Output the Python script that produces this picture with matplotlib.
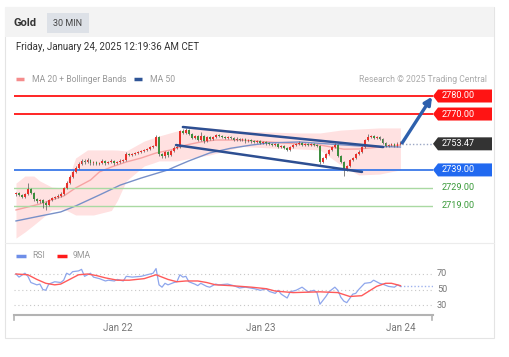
import numpy as np
import matplotlib.pyplot as plt
from matplotlib.patches import Rectangle, Polygon
from matplotlib.transforms import blended_transform_factory

plt.rcParams['font.family'] = ['Roboto', 'DejaVu Sans']

# --- price data (30 min candles, index 0 = first candle shown) ---
closes = [2726.2, 2725.1, 2724.0, 2725.7, 2728.4, 2726.2, 2722.9, 2721.8, 2722.3, 2720.7,
          2719.5, 2722.3, 2723.4, 2724.0, 2724.5, 2725.7, 2729.0, 2731.8, 2735.1, 2737.9,
          2740.1, 2742.3, 2744.0, 2743.4, 2744.5, 2742.8, 2743.4, 2742.3, 2742.8, 2744.0,
          2742.8, 2743.4, 2744.0, 2742.8, 2743.4, 2744.0, 2744.5, 2747.8, 2747.3, 2747.8,
          2748.4, 2748.9, 2749.5, 2750.1, 2750.6, 2751.7, 2752.3, 2757.3, 2747.8, 2746.7,
          2748.9, 2747.3, 2749.5, 2751.2, 2751.7, 2760.6, 2759.5, 2761.1, 2758.9, 2756.7,
          2757.8, 2755.6, 2757.8, 2755.0, 2757.3, 2756.2, 2757.3, 2758.4, 2757.8, 2757.3,
          2756.7, 2757.3, 2756.7, 2755.6, 2756.2, 2755.6, 2756.2, 2755.0, 2755.6, 2755.0,
          2754.5, 2755.0, 2753.9, 2754.5, 2753.9, 2753.4, 2752.8, 2753.4, 2751.7, 2752.3,
          2751.2, 2750.1, 2751.7, 2752.8, 2753.4, 2753.9, 2752.8, 2753.4, 2752.8, 2753.4,
          2752.8, 2752.3, 2743.4, 2745.6, 2747.8, 2750.1, 2751.7, 2752.8, 2746.7, 2743.4,
          2739.5, 2741.2, 2744.5, 2745.6, 2747.8, 2748.9, 2751.7, 2755.6, 2757.3, 2757.8,
          2756.7, 2757.3, 2756.2, 2753.9, 2752.3, 2752.8, 2753.4, 2752.3, 2753.4, 2753.47]
highs = [2727.0, 2726.8, 2725.8, 2726.4, 2731.8, 2729.0, 2726.8, 2723.5, 2723.0, 2723.0,
         2721.5, 2723.0, 2724.0, 2724.8, 2725.5, 2726.5, 2729.8, 2733.0, 2736.0, 2738.8,
         2741.2, 2743.5, 2745.0, 2745.2, 2745.5, 2745.0, 2744.2, 2744.0, 2743.5, 2745.0,
         2744.6, 2744.2, 2744.8, 2744.6, 2744.0, 2744.8, 2745.2, 2748.8, 2748.6, 2748.5,
         2749.0, 2749.6, 2750.2, 2750.8, 2751.4, 2752.5, 2753.0, 2758.4, 2757.8, 2748.6,
         2749.6, 2749.4, 2750.2, 2752.0, 2752.6, 2761.4, 2761.6, 2762.3, 2761.6, 2759.5,
         2758.5, 2758.4, 2760.0, 2758.4, 2758.0, 2758.0, 2758.0, 2759.2, 2759.0, 2758.4,
         2758.0, 2758.0, 2758.0, 2757.4, 2757.0, 2756.8, 2756.9, 2756.8, 2756.4, 2756.2,
         2755.6, 2755.8, 2755.6, 2755.2, 2755.0, 2754.6, 2754.0, 2754.2, 2754.0, 2753.0,
         2753.0, 2751.8, 2752.4, 2753.6, 2754.2, 2755.2, 2754.6, 2754.0, 2754.0, 2754.2,
         2754.0, 2753.4, 2752.8, 2746.4, 2748.6, 2750.8, 2752.4, 2753.8, 2753.4, 2747.4,
         2744.0, 2742.0, 2745.2, 2746.4, 2748.6, 2749.8, 2752.4, 2756.4, 2758.9, 2758.6,
         2758.4, 2758.0, 2758.0, 2756.8, 2754.6, 2753.6, 2754.2, 2754.0, 2754.6, 2754.8]
lows = [2724.8, 2724.3, 2723.2, 2723.5, 2725.0, 2725.5, 2722.0, 2720.8, 2720.5, 2717.9,
        2716.5, 2719.0, 2721.5, 2722.8, 2723.2, 2723.8, 2725.0, 2728.5, 2731.0, 2734.5,
        2737.2, 2739.5, 2741.8, 2742.5, 2742.8, 2742.0, 2742.0, 2741.5, 2741.5, 2742.2,
        2742.0, 2742.2, 2742.8, 2742.0, 2742.2, 2742.8, 2743.4, 2744.0, 2746.6, 2746.8,
        2747.2, 2747.8, 2748.4, 2749.0, 2749.6, 2750.0, 2751.0, 2752.0, 2746.8, 2745.6,
        2745.8, 2746.4, 2746.8, 2749.0, 2750.6, 2751.2, 2758.8, 2759.0, 2758.2, 2756.0,
        2756.0, 2754.8, 2755.0, 2754.2, 2754.4, 2755.5, 2755.6, 2756.6, 2757.0, 2756.6,
        2756.0, 2756.0, 2756.0, 2755.0, 2755.0, 2754.8, 2755.0, 2754.2, 2754.4, 2754.2,
        2753.8, 2753.8, 2753.2, 2753.2, 2753.0, 2752.6, 2752.0, 2752.0, 2751.0, 2751.0,
        2750.4, 2749.4, 2749.6, 2751.2, 2752.2, 2753.0, 2752.2, 2752.2, 2752.2, 2752.2,
        2752.0, 2751.6, 2742.4, 2742.6, 2745.0, 2747.2, 2749.6, 2751.0, 2746.0, 2742.6,
        2735.6, 2738.4, 2740.4, 2743.8, 2745.0, 2747.0, 2748.2, 2751.0, 2755.0, 2756.6,
        2756.0, 2756.0, 2755.4, 2753.2, 2751.6, 2751.6, 2752.2, 2751.6, 2751.8, 2752.6]
first_open = 2725.5

# indicators (candle index, value)
ma20_idx = [0, 8, 13, 16, 20, 25, 28, 32, 37, 42, 47, 52, 57, 62, 67, 75, 85, 95, 102, 110, 115, 122, 129]
ma20_val = [2716.8, 2720.1, 2722.9, 2724.5, 2729.0, 2733.4, 2737.9, 2740.6, 2743.4, 2745.6, 2748.4, 2750.1,
            2752.8, 2754.5, 2755.6, 2755.6, 2754.5, 2753.4, 2752.8, 2750.5, 2750.6, 2751.7, 2752.8]
ma50_idx = [0, 8, 15, 20, 28, 35, 42, 48, 51, 53, 58, 65, 72, 79, 85, 95, 105, 115, 129]
ma50_val = [2710.7, 2713.4, 2715.7, 2719.0, 2725.1, 2730.6, 2734.5, 2737.5, 2739.0, 2740.5, 2744.0,
            2748.4, 2751.0, 2752.8, 2754.0, 2754.5, 2753.4, 2752.3, 2751.7]
bb_idx = [0, 3, 6, 8, 12, 16, 18, 20, 24, 26, 32, 34, 37, 43, 46, 48, 54, 61, 65, 76, 85, 95, 102, 109, 115, 122, 129]
bb_upper = [2731.7, 2735.6, 2735.6, 2732.9, 2729.5, 2729.0, 2736.2, 2745.6, 2750.1, 2750.1, 2750.1, 2750.0,
            2749.5, 2755.0, 2756.7, 2757.8, 2760.6, 2762.3, 2762.3, 2760.6, 2760.0, 2759.5, 2759.5, 2761.1,
            2761.7, 2762.3, 2762.3]
bb_lower = [2701.2, 2704.6, 2708.5, 2711.2, 2716.8, 2717.3, 2715.7, 2714.0, 2714.0, 2714.0, 2716.5, 2722.0,
            2732.9, 2741.2, 2742.8, 2744.0, 2744.0, 2746.2, 2747.3, 2752.0, 2751.2, 2750.6, 2750.1, 2741.7,
            2736.2, 2736.7, 2739.0]

# analyst drawings
channel_upper = [(56.0, 2762.8), (123.2, 2751.7)]
channel_lower = [(53.7, 2752.8), (116.1, 2737.9)]
target_arrow = [(129.6, 2754.0), (139.6, 2779.6)]
resistances = [2780.0, 2770.0]
pivot = 2739.0
supports = [2729.0, 2719.0]
last_price = 2753.47

# RSI panel
rsi_idx = [0, 1, 3, 4, 5, 7, 8, 9, 10, 11, 13, 15, 16, 17, 18, 19, 21, 22, 23, 25, 26, 28, 30, 31, 33,
           34, 36, 37, 39, 42, 44, 46, 47, 48, 49, 50, 51, 53, 54, 55, 56, 57, 58, 60, 61, 62, 64, 65,
           67, 68, 71, 73, 75, 77, 80, 82, 84, 85, 87, 88, 89, 91, 92, 94, 96, 98, 100, 101, 102, 104,
           105, 107, 108, 109, 110, 111, 113, 114, 115, 117, 119, 120, 122, 123, 125, 127, 128, 129]
rsi_val = [70, 66, 71, 67, 59, 56, 57, 50, 49, 57, 60, 59, 62, 71, 69, 73, 74, 76, 67, 71, 66, 64, 61, 62, 61,
           63, 61, 67, 66, 67, 69, 71, 77, 56, 53, 58, 56, 59, 60, 69, 66, 67, 60, 57, 55, 58, 54, 53,
           57, 56, 57, 55, 52, 53, 51, 49, 51, 47.5, 45, 49, 44, 39, 47, 49, 53, 47, 49, 46, 31, 41,
           47, 53, 49, 40, 35, 33, 44, 45, 50, 58, 59, 62, 58, 57, 54, 53, 56, 54]
ma9_idx = [0, 4, 7, 10, 13, 15, 18, 21, 24, 27, 30, 34, 38, 43, 47, 51, 54, 57, 61, 64, 67, 72, 79, 84,
           87, 93, 102, 108, 112, 116, 121, 124, 126, 129]
ma9_val = [70, 69, 63, 58, 56, 57, 63, 69, 70, 68, 65, 62, 62, 64, 69, 63, 60, 61, 61, 59, 56, 55, 53, 51,
           48, 46, 47, 46, 41, 42, 54, 58, 58, 55]
rsi_levels = [70, 50, 30]

day_ticks = [34, 82, 129]
day_labels = ['Jan 22', 'Jan 23', 'Jan 24']

W, H = 509, 357
fig = plt.figure(figsize=(W / 100, H / 100), dpi=100)
fig.patch.set_facecolor('white')


def px_axes(left, top, right, bottom):
    return fig.add_axes([left / W, 1 - bottom / H, (right - left) / W, (bottom - top) / H])


# background card drawn in pixel coordinates
bg = px_axes(0, 0, W, H)
bg.set_xlim(0, W)
bg.set_ylim(H, 0)
bg.axis('off')
bg.add_patch(Rectangle((5, 7), 489, 331, fc='white', ec='#e4e4e4', lw=0.8))
bg.add_patch(Rectangle((5.4, 7.4), 488.2, 30, fc='#f3f3f3', ec='none'))
bg.plot([5, 494], [243, 243], color='#ececec', lw=0.8)
bg.text(14, 22.5, 'Gold', fontsize=8, fontweight='bold', color='#333333', va='center')
bg.add_patch(Rectangle((47, 13), 42, 20, fc='#dde1e7', ec='none'))
bg.text(68, 23, '30 MIN', fontsize=6.5, color='#444444', ha='center', va='center')
bg.text(16, 47, 'Friday, January 24, 2025 12:19:36 AM CET', fontsize=7, color='#333333', va='center')

bg.plot([16, 24], [79, 79], color='#f58c8c', lw=2.5, solid_capstyle='butt')
bg.text(32, 79, 'MA 20 + Bollinger Bands', fontsize=6.2, color='#999999', va='center')
bg.plot([134, 142], [79, 79], color='#2f5597', lw=2.5, solid_capstyle='butt')
bg.text(150, 79, 'MA 50', fontsize=6.2, color='#999999', va='center')
bg.text(487, 79, 'Research \u00a9 2025 Trading Central', fontsize=6.2, color='#aaaaaa', va='center', ha='right')

bg.plot([16, 26], [256, 256], color='#6e8ee8', lw=2.5, solid_capstyle='butt')
bg.text(32, 256, 'RSI', fontsize=6.2, color='#999999', va='center')
bg.plot([57, 67], [256, 256], color='#ff1a1a', lw=2.5, solid_capstyle='butt')
bg.text(73, 256, '9MA', fontsize=6.2, color='#999999', va='center')

# --- main price panel ---
ax = px_axes(14, 86, 433, 242)
ax.set_facecolor('none')
px_per_unit = 1.803
ax.set_xlim(-0.67, 139.93)
ax.set_ylim(2780 - (242 - 96) / px_per_unit, 2780 + (96 - 86) / px_per_unit)
ax.axis('off')

ax.fill_between(bb_idx, bb_lower, bb_upper, color='#ffe1e1', lw=0, zorder=1)
ax.plot(ma20_idx, ma20_val, color='#f7a3a3', lw=1.0, zorder=2)
ax.plot(ma50_idx, ma50_val, color='#7890c8', lw=1.0, zorder=2)

for lv in resistances:
    ax.axhline(lv, color='#ff1414', lw=1.3, zorder=3)
ax.axhline(pivot, color='#3a78e8', lw=1.3, zorder=3)
for lv in supports:
    ax.axhline(lv, color='#a9d9a2', lw=1.0, zorder=3)

x = np.arange(len(closes))
c = np.array(closes)
o = np.array([first_open] + closes[:-1])
up = c >= o
body_lo = np.minimum(o, c)
body_h = np.maximum(np.abs(c - o), 0.35)
ax.vlines(x, lows, highs, color='#555555', lw=0.5, zorder=4)
ax.bar(x[up], body_h[up], bottom=body_lo[up], width=0.62, color='#e8312b', lw=0, zorder=5)
ax.bar(x[~up], body_h[~up], bottom=body_lo[~up], width=0.62, color='#3e8e3e', lw=0, zorder=5)

for seg in (channel_upper, channel_lower):
    ax.plot([seg[0][0], seg[1][0]], [seg[0][1], seg[1][1]], color='#2d4f92', lw=1.8,
            solid_capstyle='round', zorder=6)

ax.hlines(last_price, x[-1] + 0.5, ax.get_xlim()[1], color='#9aa6c4', lw=1.0,
          linestyles=(0, (1, 1.5)), zorder=3)
ax.annotate('', xy=target_arrow[1], xytext=target_arrow[0], annotation_clip=False,
            arrowprops=dict(arrowstyle='-|>', color='#2e60ad', lw=2.4, mutation_scale=11,
                            shrinkA=0, shrinkB=0), zorder=7)

# price tags on the right
tag = blended_transform_factory(bg.transData, ax.transData)
half = 6.5 / px_per_unit


def price_tag(level, fc):
    pts = [(433, level), (438, level + half), (492, level + half), (492, level - half), (438, level - half)]
    bg.add_patch(Polygon(pts, closed=True, fc=fc, ec='none', transform=tag, clip_on=False))
    bg.text(442, level, f'{level:.2f}', transform=tag, color='white', fontsize=6.6, va='center')


for lv in resistances:
    price_tag(lv, '#ff1414')
price_tag(last_price, '#333333')
price_tag(pivot, '#2169f0')
for lv in supports:
    bg.text(442, lv, f'{lv:.2f}', transform=tag, color='#3a9a3a', fontsize=6.6, va='center')

# --- RSI panel ---
rx = px_axes(14, 264, 433, 315)
rx.set_facecolor('none')
rsi_px = 0.775
rx.set_xlim(-0.67, 139.93)
rx.set_ylim(70 - (315 - 274) / rsi_px, 70 + (274 - 264) / rsi_px)
for s in ('top', 'left', 'right'):
    rx.spines[s].set_visible(False)
rx.spines['bottom'].set_color('#b3b3b3')
rx.spines['bottom'].set_linewidth(1.5)
rx.set_yticks([])
rx.set_xticks(day_ticks)
rx.set_xticklabels(day_labels)
rx.tick_params(axis='x', length=0, pad=6, labelsize=7, labelcolor='#777777')
for lv in rsi_levels:
    rx.axhline(lv, color='#c8c8c8', lw=0.8, linestyle=(0, (1, 2.5)), zorder=1)
    bg.text(437, lv, str(lv), transform=blended_transform_factory(bg.transData, rx.transData),
            color='#777777', fontsize=6.6, va='center')
rx.plot(rsi_idx, rsi_val, color='#8ea6ec', lw=0.9, zorder=3)
rx.plot(ma9_idx, ma9_val, color='#ff5a5a', lw=1.0, zorder=4)
rx.hlines(rsi_val[-1], rsi_idx[-1], rx.get_xlim()[1], color='#9fb3ee', lw=1.0,
          linestyles=(0, (1, 1.5)), zorder=2)
bg.plot([14.5, 14.5], [315, 319.5], color='#b3b3b3', lw=1.2)
bg.plot([432.5, 432.5], [315, 319.5], color='#b3b3b3', lw=1.2)

fig.savefig('out.png', dpi=100, facecolor='white')
